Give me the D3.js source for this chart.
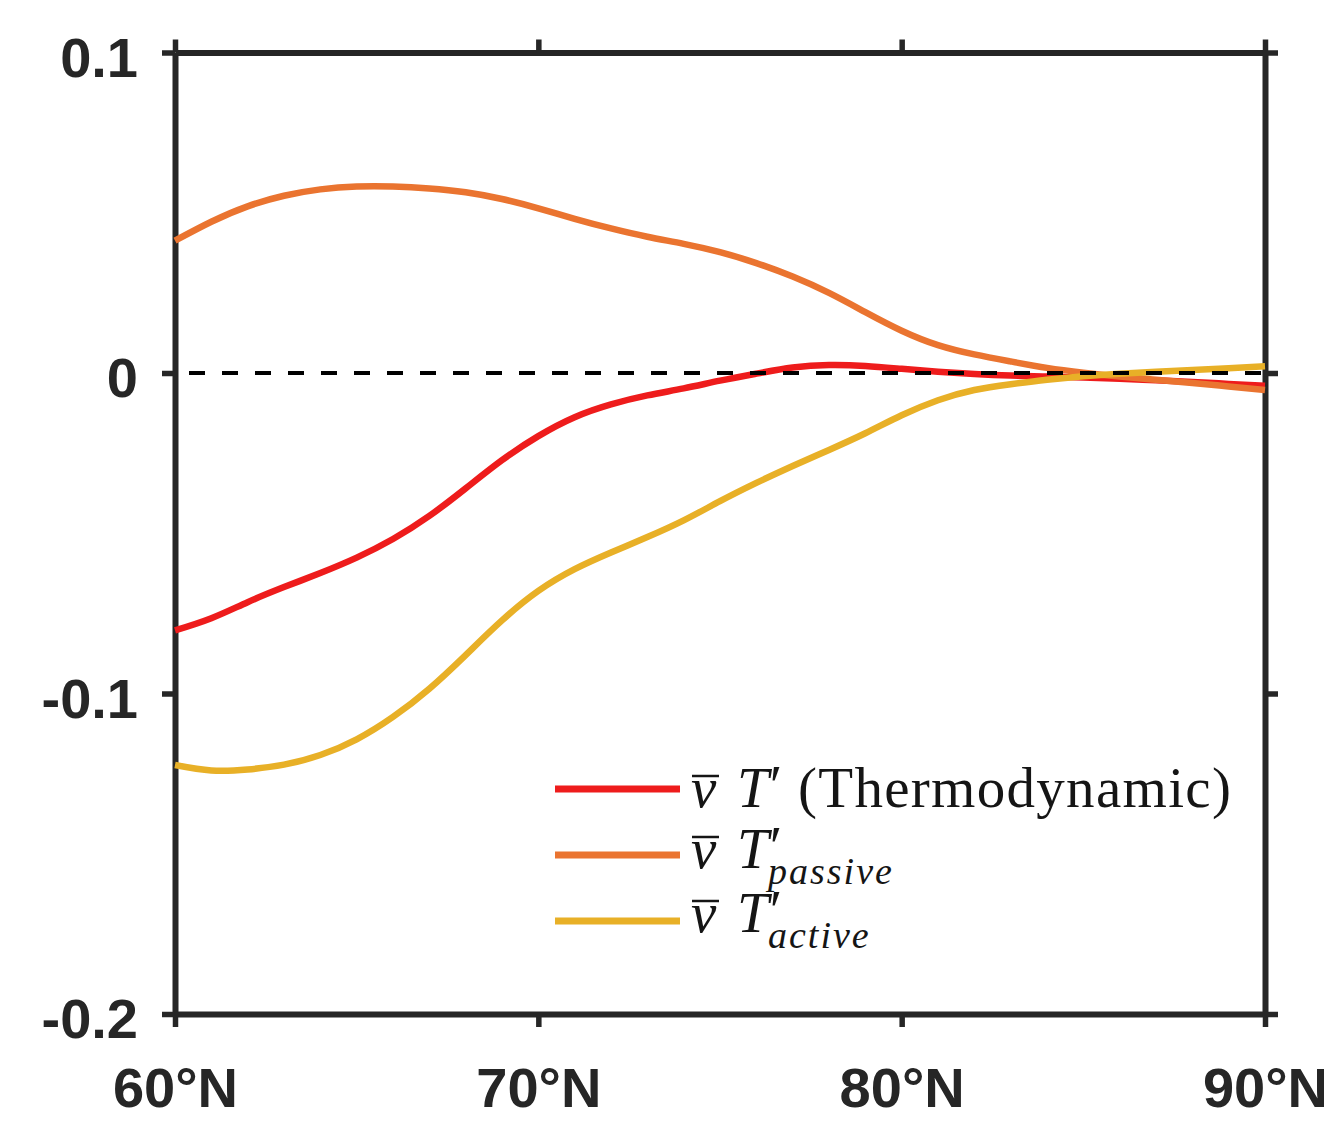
<!DOCTYPE html>
<html>
<head>
<meta charset="utf-8">
<script src="https://cdn.jsdelivr.net/npm/d3@7"></script>
<style>
  html, body { margin: 0; padding: 0; background: #fff; }
  svg { display: block; }
</style>
</head>
<body>
<svg id="chart" width="1324" height="1127"></svg>
<script>
// ---------------- data ----------------
const latitudes = d3.range(60, 91, 1);

const thermodynamic = [
  -0.0803, -0.0765, -0.0715, -0.0668, -0.0624, -0.0576, -0.0518, -0.0446, -0.0360, -0.0272,
  -0.0197, -0.0138, -0.0098, -0.0070, -0.0048, -0.0024, -0.0002, 0.0017, 0.0025, 0.0022,
  0.0013, 0.0004, -0.0003, -0.0008, -0.0011, -0.0014, -0.0018, -0.0023, -0.0028, -0.0034,
  -0.0040
];

const passive = [
  0.0413, 0.0472, 0.0520, 0.0553, 0.0573, 0.0582, 0.0582, 0.0576, 0.0564, 0.0543,
  0.0514, 0.0481, 0.0451, 0.0425, 0.0403, 0.0377, 0.0343, 0.0301, 0.0250, 0.0190,
  0.0132, 0.0087, 0.0058, 0.0036, 0.0016, 0.0001, -0.0011, -0.0021, -0.0031, -0.0042,
  -0.0053
];

const active = [
  -0.1223, -0.1240, -0.1237, -0.1222, -0.1192, -0.1143, -0.1073, -0.0985, -0.0880, -0.0772,
  -0.0680, -0.0612, -0.0560, -0.0512, -0.0460, -0.0400, -0.0343, -0.0290, -0.0240, -0.0188,
  -0.0132, -0.0085, -0.0053, -0.0035, -0.0021, -0.0010, -0.0002, 0.0004, 0.0009, 0.0015,
  0.0021
];

const xTicks = [60, 70, 80, 90];
const xTickLabels = ["60°N", "70°N", "80°N", "90°N"];
const yTicks = [0.1, 0, -0.1, -0.2];
const yTickLabels = ["0.1", "0", "-0.1", "-0.2"];

const seriesNames = ["thermo", "passive", "active"];
const seriesValues = [thermodynamic, passive, active];
const seriesColors = ["#ee1c1c", "#ea7430", "#e8b027"];
const legendSubscripts = [null, "passive", "active"];
const legendSuffix = ["(Thermodynamic)", null, null];

// ---------------- layout ----------------
const svg = d3.select("#chart");
const plotLeft = 175, plotRight = 1265, plotTop = 52.5, plotBottom = 1014;
const axisColor = "#262626";

const x = d3.scaleLinear().domain([60, 90]).range([plotLeft, plotRight]);
const y = d3.scaleLinear().domain([-0.2, 0.1]).range([plotBottom, plotTop]);

const tickLen = 13;

function styleAxis(g) {
  g.selectAll("path.domain").attr("stroke", axisColor).attr("stroke-width", 6);
  g.selectAll(".tick line").attr("stroke", axisColor).attr("stroke-width", 5.5);
  g.selectAll(".tick text")
    .attr("fill", axisColor)
    .style("font-family", "'Liberation Sans', Arial, Helvetica, sans-serif")
    .style("font-weight", "bold")
    .style("font-size", "56px");
}

// bottom axis
svg.append("g")
  .attr("transform", `translate(0,${plotBottom})`)
  .call(d3.axisBottom(x).tickValues(xTicks).tickFormat((d, i) => xTickLabels[i])
        .tickSizeInner(tickLen).tickSizeOuter(0).tickPadding(40))
  .call(styleAxis);

// top axis
svg.append("g")
  .attr("transform", `translate(0,${plotTop})`)
  .call(d3.axisTop(x).tickValues(xTicks).tickFormat("")
        .tickSizeInner(tickLen).tickSizeOuter(0))
  .call(styleAxis);

// left axis
svg.append("g")
  .attr("transform", `translate(${plotLeft},0)`)
  .call(d3.axisLeft(y).tickValues(yTicks).tickFormat((d, i) => yTickLabels[i])
        .tickSizeInner(tickLen).tickSizeOuter(0).tickPadding(24))
  .call(styleAxis)
  .call(g => g.selectAll(".tick text").attr("dy", "0.42em"));

// right axis
svg.append("g")
  .attr("transform", `translate(${plotRight},0)`)
  .call(d3.axisRight(y).tickValues(yTicks).tickFormat("")
        .tickSizeInner(tickLen).tickSizeOuter(0))
  .call(styleAxis);

// ---------------- curves ----------------
const line = d3.line()
  .x(d => x(d[0]))
  .y(d => y(d[1]))
  .curve(d3.curveNatural);

seriesValues.forEach((vals, i) => {
  svg.append("path")
    .datum(latitudes.map((lat, j) => [lat, vals[j]]))
    .attr("class", "series " + seriesNames[i])
    .attr("fill", "none")
    .attr("stroke", seriesColors[i])
    .attr("stroke-width", 6.5)
    .attr("stroke-linejoin", "round")
    .attr("d", line);
});

// zero reference line (dashed)
svg.append("line")
  .attr("x1", x(60)).attr("x2", x(90))
  .attr("y1", y(0)).attr("y2", y(0))
  .attr("stroke", "#000")
  .attr("stroke-width", 4)
  .attr("stroke-dasharray", "16,17")
  .attr("stroke-dashoffset", -14);

// ---------------- legend ----------------
const legendRowsY = [789, 855, 921];
const legendBaseOffset = [18, 13, 11];
const legend = svg.append("g").attr("class", "legend");
const serif = "'Liberation Serif', 'Times New Roman', serif";
const textColor = "#151515";

seriesNames.forEach((name, i) => {
  const ly = legendRowsY[i];
  const by = ly + legendBaseOffset[i];

  legend.append("line")
    .attr("x1", 555).attr("x2", 680)
    .attr("y1", ly).attr("y2", ly)
    .attr("stroke", seriesColors[i])
    .attr("stroke-width", 7);

  // v with bar
  const vText = legend.append("text")
    .attr("x", 691).attr("y", by)
    .attr("fill", textColor)
    .style("font-family", serif)
    .style("font-style", "italic")
    .style("font-size", "57px")
    .text("v");
  const vb = vText.node().getBBox();
  legend.append("line")
    .attr("x1", vb.x + 1).attr("x2", vb.x + vb.width + 2)
    .attr("y1", by - 31).attr("y2", by - 31)
    .attr("stroke", textColor)
    .attr("stroke-width", 2.5);

  // T'
  const t = legend.append("text")
    .attr("x", 737).attr("y", by)
    .attr("fill", textColor)
    .style("font-family", serif)
    .style("font-size", "57px");
  t.append("tspan").style("font-style", "italic").text("T");
  t.append("tspan").attr("dx", 1).attr("dy", -2).text("′");

  if (legendSubscripts[i]) {
    legend.append("text")
      .attr("x", 768).attr("y", by + 16)
      .attr("fill", textColor)
      .style("font-family", serif)
      .style("font-style", "italic")
      .style("font-size", "38px")
      .style("letter-spacing", "2px")
      .text(legendSubscripts[i]);
  }
  if (legendSuffix[i]) {
    legend.append("text")
      .attr("x", 798).attr("y", by)
      .attr("fill", textColor)
      .style("font-family", serif)
      .style("font-size", "57px")
      .style("letter-spacing", "1.3px")
      .text(legendSuffix[i]);
  }
});
</script>
</body>
</html>
